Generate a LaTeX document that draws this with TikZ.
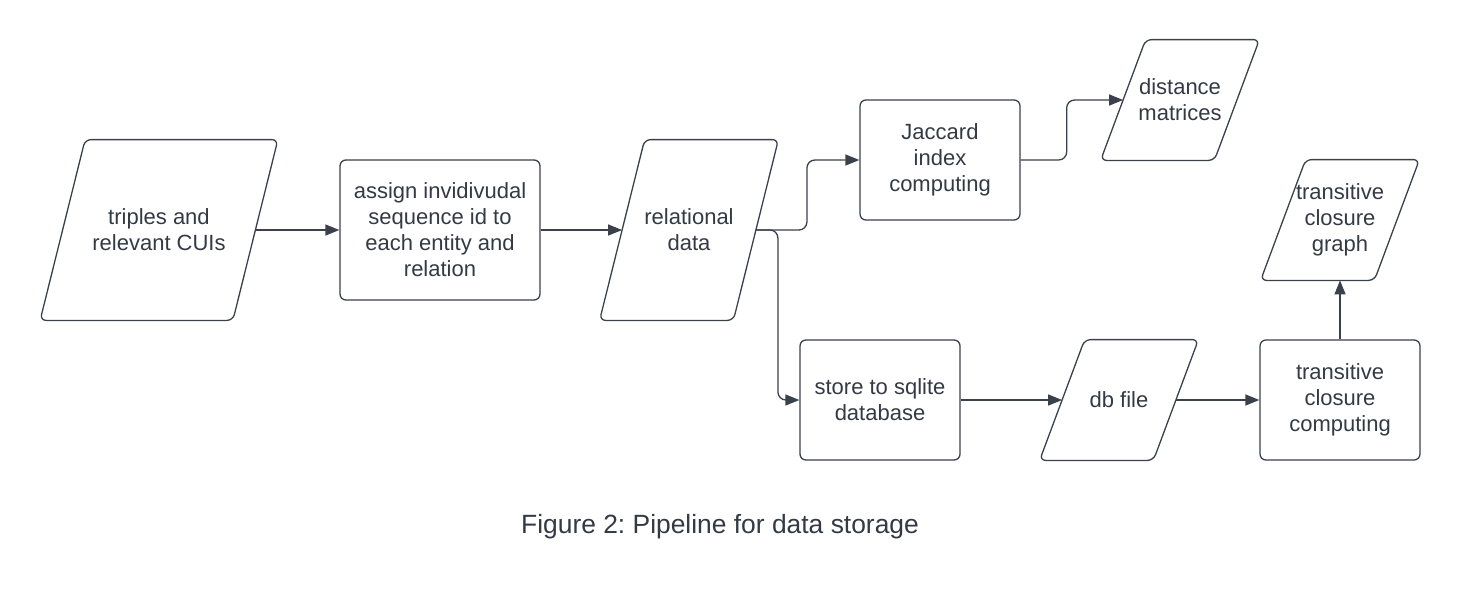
\documentclass[tikz,border=0pt]{standalone}
\usepackage{fontspec}
\setmainfont{Liberation Sans}
\usepackage{tikz}
\usetikzlibrary{calc,arrows.meta}
\frenchspacing
\definecolor{linec}{HTML}{3A414A}
\definecolor{inkc}{HTML}{333A44}
\tikzstyle{stepbox}=[draw=linec,line width=0.65pt,rounded corners=3pt,inner sep=0pt,minimum width=80pt,minimum height=60pt]
\tikzstyle{databox}=[inner sep=0pt,minimum height=60pt,append after command={\pgfextra{\draw[linec,line width=0.65pt,rounded corners=3pt] ($(\tikzlastnode.north west)+(22.5,0)$) -- ($(\tikzlastnode.north east)+(22.5,0)$) -- ($(\tikzlastnode.south east)+(-22.5,0)$) -- ($(\tikzlastnode.south west)+(-22.5,0)$) -- cycle;}}]
\tikzstyle{flow}=[draw=linec,line width=0.65pt,rounded corners=4pt,-{Triangle[length=7pt,width=5.5pt]}]

\begin{document}
\begin{tikzpicture}[x=0.5pt,y=-0.5pt,every node/.style={font=\fontsize{11}{13}\selectfont,text=inkc,align=center}]
                    \useasboundingbox (0,0) rectangle (1460,600);

                    \node (triples) at (159,230) [databox,minimum width=96pt,minimum height=90pt] {triples and\\relevant CUIs};
                    \node (assign) at (440,230) [stepbox,minimum width=100pt,minimum height=70pt] {assign invidivudal\\sequence id to\\each entity and\\relation};
                    \node (relational) at (689,230) [databox,minimum width=66.5pt,minimum height=90pt] {relational\\data};
                    \node (jaccard) at (940,160) [stepbox] {Jaccard\\index\\computing};
                    \node (distance) at (1180,100) [databox,minimum width=56.5pt] {distance\\matrices};
                    \node (store) at (880,400) [stepbox] {store to sqlite\\database};
                    \node (dbfile) at (1119,400) [databox,minimum width=56.5pt] {db file};
                    \node (tccomp) at (1340,400) [stepbox] {transitive\\closure\\computing};
                    \node (tcgraph) at (1340,220) [databox,minimum width=56.5pt] {transitive\\closure\\graph};
                    \node (caption) at (720,527) [font=\fontsize{13.2}{15}\selectfont] {Figure 2: Pipeline for data storage};

                    \draw [flow] (triples) -- (assign);
                    \draw [flow] (assign) -- (relational);
                    \draw [flow] (relational.east) -- ++(51,0) |- (jaccard.west);
                    \draw [flow] (relational.east) -- ++(22,0) |- (store.west);
                    \draw [flow] (jaccard.east) -- ++(46,0) |- (distance.west);
                    \draw [flow] (store) -- (dbfile);
                    \draw [flow] (dbfile) -- (tccomp);
                    \draw [flow] (tccomp) -- (tcgraph);
                \end{tikzpicture}
\end{document}
